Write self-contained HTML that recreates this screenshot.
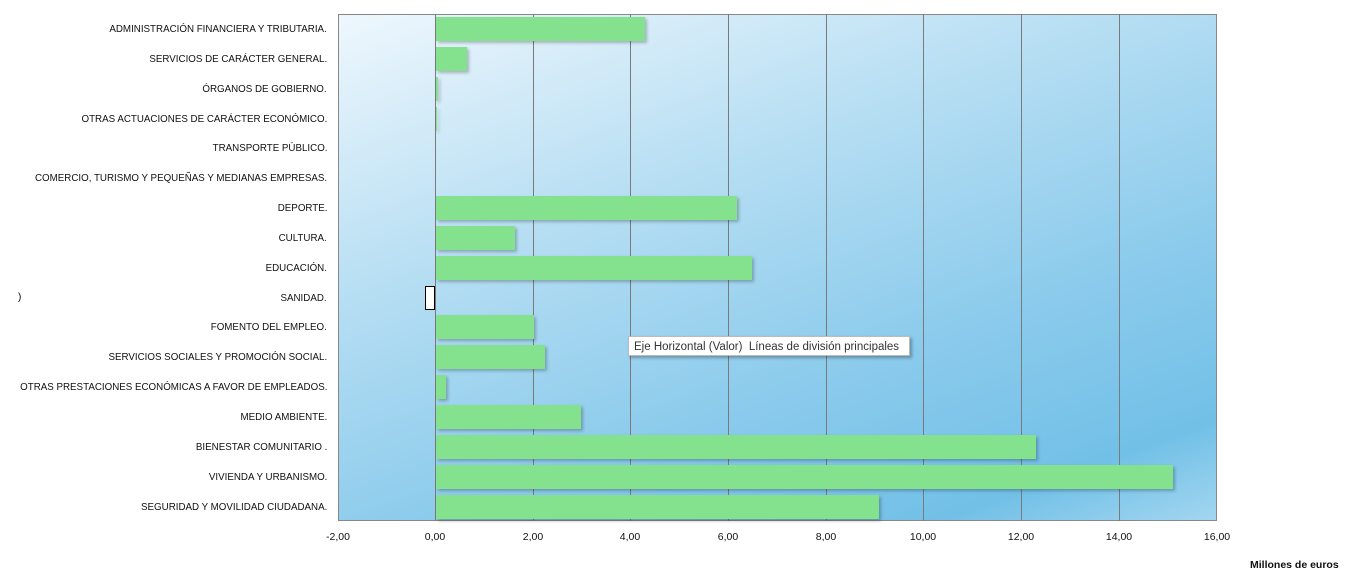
<!DOCTYPE html><html><head><meta charset="utf-8"><style>
body{margin:0;width:1352px;height:582px;background:#fff;position:relative;overflow:hidden;font-family:"Liberation Sans",sans-serif;}
#plot{position:absolute;left:338px;top:14px;width:879px;height:507px;border:1px solid #888;box-sizing:border-box;
background:linear-gradient(160deg,#eef7fd 0%,#b6def3 35%,#8ccbec 65%,#72c0e7 88%,#a2d6f0 100%);}
.g{position:absolute;top:14px;height:507px;width:1px;background:#7a7a7a;}
.b{position:absolute;height:24px;background:#84e28e;box-shadow:2px 2px 3px rgba(0,0,0,.25);}
.l{position:absolute;right:1025px;font-size:10.5px;color:#111;white-space:nowrap;line-height:12px;transform:scaleX(0.93);transform-origin:right center;}
.t{position:absolute;top:531px;font-size:10.5px;color:#111;width:60px;text-align:center;margin-left:-30px;}
</style></head><body>
<div id="plot"></div>
<div class="g" style="left:435px"></div><div class="g" style="left:533px"></div><div class="g" style="left:630px"></div><div class="g" style="left:728px"></div><div class="g" style="left:826px"></div><div class="g" style="left:923px"></div><div class="g" style="left:1021px"></div><div class="g" style="left:1119px"></div>
<div class="l" style="top:23px">ADMINISTRACIÓN FINANCIERA Y TRIBUTARIA.</div>
<div class="l" style="top:53px">SERVICIOS DE CARÁCTER GENERAL.</div>
<div class="l" style="top:83px">ÓRGANOS DE GOBIERNO.</div>
<div class="l" style="top:113px">OTRAS ACTUACIONES DE CARÁCTER ECONÓMICO.</div>
<div class="l" style="top:142px">TRANSPORTE PÚBLICO.</div>
<div class="l" style="top:172px">COMERCIO, TURISMO Y PEQUEÑAS Y MEDIANAS EMPRESAS.</div>
<div class="l" style="top:202px">DEPORTE.</div>
<div class="l" style="top:232px">CULTURA.</div>
<div class="l" style="top:262px">EDUCACIÓN.</div>
<div class="l" style="top:292px">SANIDAD.</div>
<div class="l" style="top:321px">FOMENTO DEL EMPLEO.</div>
<div class="l" style="top:351px">SERVICIOS SOCIALES Y PROMOCIÓN SOCIAL.</div>
<div class="l" style="top:381px">OTRAS PRESTACIONES ECONÓMICAS A FAVOR DE EMPLEADOS.</div>
<div class="l" style="top:411px">MEDIO AMBIENTE.</div>
<div class="l" style="top:441px">BIENESTAR COMUNITARIO .</div>
<div class="l" style="top:471px">VIVIENDA Y URBANISMO.</div>
<div class="l" style="top:501px">SEGURIDAD Y MOVILIDAD CIUDADANA.</div>
<div style="position:absolute;left:18px;top:292px;font-size:10px">)</div>
<div class="b" style="left:436px;top:17px;width:209px"></div>
<div class="b" style="left:436px;top:47px;width:31px"></div>
<div class="b" style="left:436px;top:77px;width:2px"></div>
<div class="b" style="left:436px;top:107px;width:1px"></div>
<div class="b" style="left:436px;top:196px;width:301px"></div>
<div class="b" style="left:436px;top:226px;width:79px"></div>
<div class="b" style="left:436px;top:256px;width:316px"></div>
<div style="position:absolute;left:425px;top:286px;width:8px;height:22px;background:#fff;border:1px solid #000"></div>
<div class="b" style="left:436px;top:315px;width:98px"></div>
<div class="b" style="left:436px;top:345px;width:109px"></div>
<div class="b" style="left:436px;top:375px;width:10px"></div>
<div class="b" style="left:436px;top:405px;width:145px"></div>
<div class="b" style="left:436px;top:435px;width:600px"></div>
<div class="b" style="left:436px;top:465px;width:737px"></div>
<div class="b" style="left:436px;top:495px;width:443px"></div>
<div style="position:absolute;left:628px;top:336px;width:282px;height:20px;background:#fff;border:1px solid #bbb;box-shadow:2px 2px 3px rgba(0,0,0,.3);font-size:11.5px;color:#333;line-height:20px;padding-left:5px;box-sizing:border-box;white-space:nowrap">Eje Horizontal (Valor)&nbsp; Líneas de división principales</div>
<div class="t" style="left:338px">-2,00</div><div class="t" style="left:435px">0,00</div><div class="t" style="left:533px">2,00</div><div class="t" style="left:630px">4,00</div><div class="t" style="left:728px">6,00</div><div class="t" style="left:826px">8,00</div><div class="t" style="left:923px">10,00</div><div class="t" style="left:1021px">12,00</div><div class="t" style="left:1119px">14,00</div><div class="t" style="left:1217px">16,00</div>
<div style="position:absolute;left:1250px;top:559px;font-size:10.5px;font-weight:bold;color:#111">Millones de euros</div>
</body></html>
